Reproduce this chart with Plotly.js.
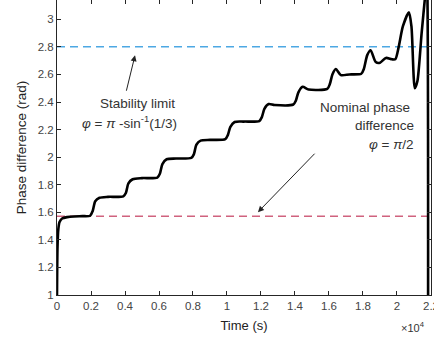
<!DOCTYPE html>
<html>
<head>
<meta charset="utf-8">
<script src="https://cdn.plot.ly/plotly-3.0.1.min.js"></script>
<style>html,body{margin:0;padding:0;background:#fff;}#chart{width:434px;height:338px;}</style>
</head>
<body>
<div id="chart"></div>
<script>
// Time in units of 1e4 s
const time_1e4 = [0, 0.003, 0.008, 0.015, 0.03, 0.06, 0.1, 0.15, 0.195,
  0.21, 0.225, 0.25, 0.3, 0.39,
  0.405, 0.42, 0.445, 0.5, 0.59,
  0.605, 0.62, 0.645, 0.7, 0.79,
  0.805, 0.82, 0.845, 0.9, 0.99,
  1.005, 1.02, 1.045, 1.1, 1.19,
  1.205, 1.22, 1.245, 1.28, 1.39,
  1.405, 1.42, 1.445, 1.48, 1.59,
  1.605, 1.62, 1.64, 1.67, 1.72, 1.79,
  1.805, 1.825, 1.845, 1.875, 1.90, 1.935, 1.97, 1.99,
  2.01, 2.035, 2.07, 2.085, 2.105, 2.12, 2.145, 2.168, 2.176, 2.183];
const phaseDiff = [1.0, 1.35, 1.48, 1.53, 1.555, 1.565, 1.57, 1.572, 1.575,
  1.61, 1.68, 1.705, 1.712, 1.716,
  1.74, 1.81, 1.84, 1.848, 1.852,
  1.88, 1.95, 1.985, 1.99, 1.995,
  2.02, 2.09, 2.12, 2.125, 2.13,
  2.16, 2.22, 2.255, 2.258, 2.262,
  2.29, 2.35, 2.385, 2.378, 2.382,
  2.41, 2.47, 2.51, 2.49, 2.495,
  2.53, 2.60, 2.64, 2.595, 2.60, 2.605,
  2.64, 2.74, 2.775, 2.69, 2.685, 2.72, 2.71, 2.71,
  2.80, 2.95, 3.05, 2.95, 2.50, 2.55, 2.90, 3.20, 3.30, 0.8];
const stabilityLimit = Math.PI - Math.asin(1/3);
const nominalPhase = Math.PI / 2;
const xRange = [0, 2.2001];
const yRange = [1, 3.14];
const xTicks = [0, 0.2, 0.4, 0.6, 0.8, 1, 1.2, 1.4, 1.6, 1.8, 2, 2.2];
const yTicks = [1, 1.2, 1.4, 1.6, 1.8, 2, 2.2, 2.4, 2.6, 2.8, 3];

const font = 'Liberation Sans, Arial, sans-serif';
const textColor = '#333';
const traces = [
  {x: xRange, y: [stabilityLimit, stabilityLimit], mode: 'lines',
   line: {color: '#4da8e3', width: 1.5, dash: '8px,5px'}, hoverinfo: 'skip'},
  {x: xRange, y: [nominalPhase, nominalPhase], mode: 'lines',
   line: {color: '#d0627e', width: 1.5, dash: '8px,5px'}, hoverinfo: 'skip'},
  {x: time_1e4, y: phaseDiff, mode: 'lines',
   line: {color: '#000', width: 2.6, shape: 'spline', smoothing: 0.7}}
];
const axisCommon = {
  showgrid: false, zeroline: false, showline: true, linecolor: '#262626', linewidth: 1,
  mirror: 'ticks', ticks: 'inside', ticklen: 4, tickcolor: '#262626',
  ticklabeloverflow: 'allow',
  tickfont: {family: font, size: 11.5, color: '#444'}
};
const layout = {
  width: 434, height: 338,
  margin: {l: 57, r: 3, t: 0, b: 43},
  paper_bgcolor: '#fff', plot_bgcolor: '#fff',
  showlegend: false,
  xaxis: Object.assign({}, axisCommon, {range: xRange, tickvals: xTicks,
    ticktext: xTicks.map(String),
    title: {text: 'Time (s)', font: {family: font, size: 13, color: '#222'}, standoff: 10}}),
  yaxis: Object.assign({}, axisCommon, {range: yRange, tickvals: yTicks,
    ticktext: yTicks.map(String),
    title: {text: 'Phase difference (rad)', font: {family: font, size: 13.5, color: '#222'}, standoff: 7}}),
  annotations: [
    {xref: 'paper', yref: 'paper', x: 0.99, y: -0.11, xanchor: 'right', yanchor: 'middle',
     text: '\u00d710<sup>4</sup>', showarrow: false, font: {family: font, size: 11, color: textColor}},
    {x: 0.459, y: 2.739, ax: 0.406, ay: 2.471, axref: 'x', ayref: 'y', text: '',
     showarrow: true, arrowhead: 2, arrowsize: 1.2, arrowwidth: 1, arrowcolor: '#222'},
    {x: 1.182, y: 1.601, ax: 1.524, ay: 2.036, axref: 'x', ayref: 'y', text: '',
     showarrow: true, arrowhead: 2, arrowsize: 1.2, arrowwidth: 1, arrowcolor: '#222'},
    {x: 0.475, y: 2.39, text: 'Stability limit', showarrow: false, xanchor: 'center',
     font: {family: font, size: 13.5, color: textColor}},
    {x: 0.425, y: 2.255, text: '<i>\u03c6</i> = <i>\u03c0</i> -sin<sup>-1</sup>(1/3)', showarrow: false, xanchor: 'center',
     font: {family: font, size: 13.5, color: textColor}},
    {x: 2.09, y: 2.36, text: 'Nominal phase', showarrow: false, xanchor: 'right',
     font: {family: font, size: 13.5, color: textColor}},
    {x: 2.11, y: 2.23, text: 'difference', showarrow: false, xanchor: 'right',
     font: {family: font, size: 13.5, color: textColor}},
    {x: 2.11, y: 2.095, text: '<i>\u03c6</i> = <i>\u03c0</i>/2', showarrow: false, xanchor: 'right',
     font: {family: font, size: 13.5, color: textColor}}
  ]
};
Plotly.newPlot('chart', traces, layout, {displayModeBar: false, staticPlot: true});
</script>
</body>
</html>
